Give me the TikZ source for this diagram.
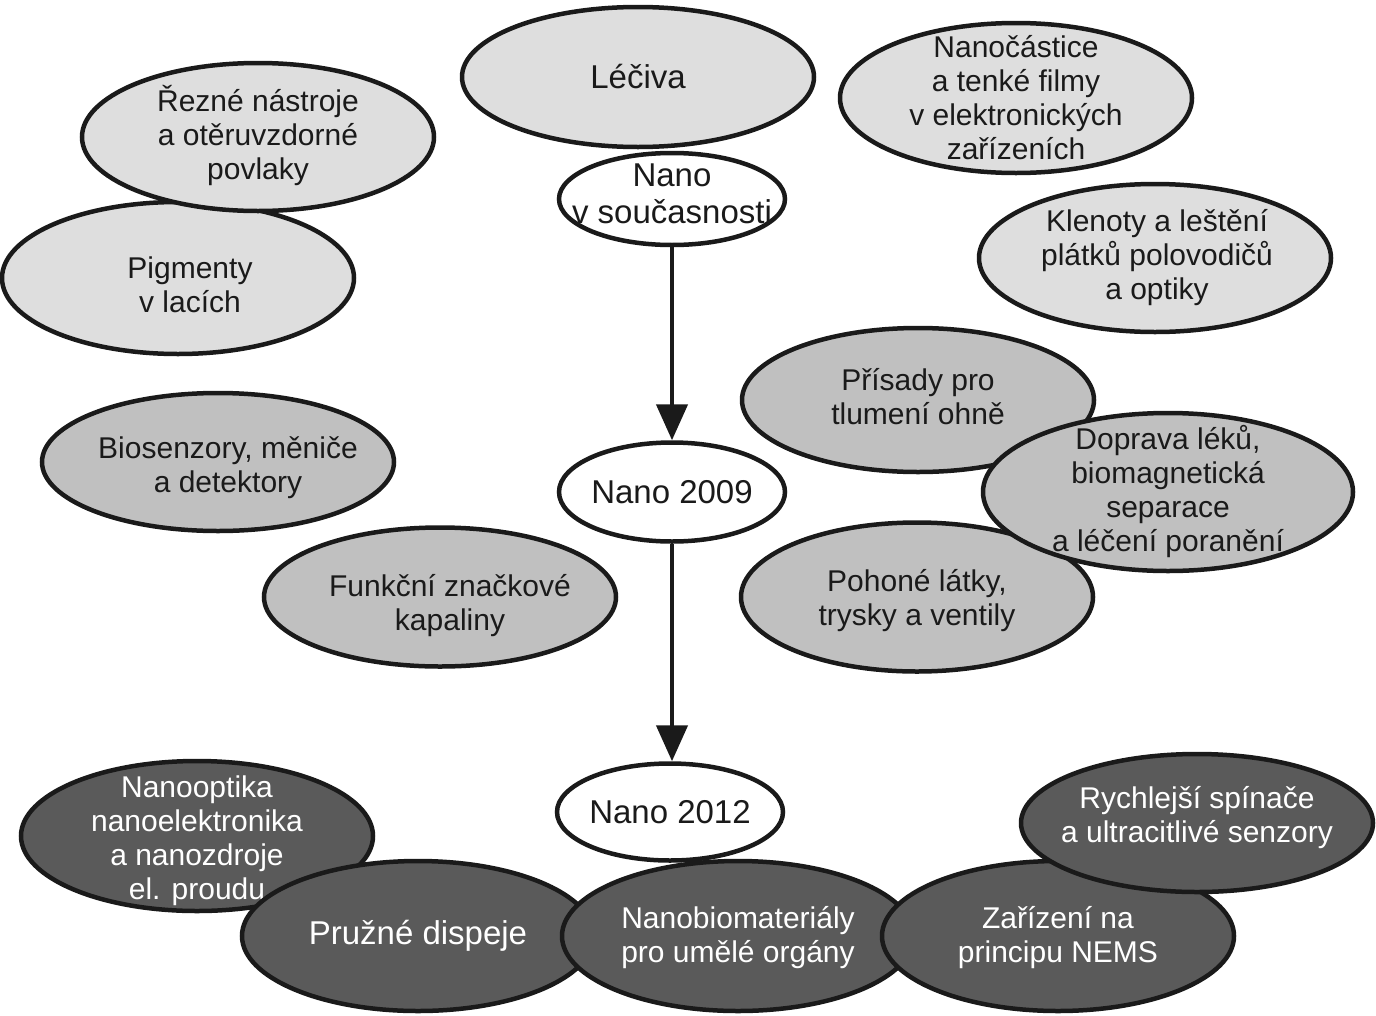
\documentclass[tikz,border=0pt]{standalone}
\usepackage{fontspec}
\setmainfont{Liberation Sans}
\usetikzlibrary{arrows.meta, shapes.geometric, positioning}
\definecolor{ink}{HTML}{1A1A1A}
\definecolor{lightfill}{HTML}{DEDEDE}
\definecolor{midfill}{HTML}{C0C0C0}
\definecolor{darkfill}{HTML}{5A5A5A}

\begin{document}
\begin{tikzpicture}[x=1pt,y=-1pt,->,>={Triangle[width=31pt,length=36pt]},line width=4.5pt,
		bubble/.style={ellipse,draw=ink,inner sep=0pt,minimum width=352pt,minimum height=146pt},
		light node/.style={bubble,fill=lightfill},
		mid node/.style={bubble,fill=midfill},
		dark node/.style={bubble,fill=darkfill},
		era node/.style={bubble,fill=white,minimum width=226pt,minimum height=96pt},
		txt/.style={align=center,text=ink,font=\fontsize{30}{34}\selectfont},
		big txt/.style={txt,font=\fontsize{33}{37}\selectfont},
		dark txt/.style={txt,text=white}]
		\useasboundingbox (0,0) rectangle (1376,1015);

		%% Nodes
		% Nano v soucasnosti
		\begin{scope}
			\node (drugs) at (638,77) [light node, minimum height=140pt, label={[big txt]center:{Léčiva}}] {};
			\node (films) at (1016,98) [light node, minimum height=150pt, label={[txt]center:{Nanočástice\\a tenké filmy\\v elektronických\\zařízeních}}] {};
			\node (pigments) at (178,278) [light node, minimum height=152pt, label={[txt,xshift=12pt,yshift=-7pt]center:{Pigmenty\\v lacích}}] {};
			\node (tools) at (258,137) [light node, minimum height=148pt, label={[txt,yshift=2pt]center:{Řezné nástroje\\a otěruvzdorné\\povlaky}}] {};
			\node (gems) at (1155,258) [light node, minimum height=148pt, label={[txt,xshift=2pt]center:{Klenoty a leštění\\plátků polovodičů\\a optiky}}] {};
			\node (now) at (672,199) [era node, minimum height=92pt, label={[big txt,yshift=5pt]center:{Nano\\v současnosti}}] {};
		\end{scope}

		% Nano 2009
		\begin{scope}
			\node (sensors) at (218,462) [mid node, minimum height=138pt, label={[txt,xshift=10pt,yshift=-6pt]center:{Biosenzory, měniče\\a detektory}}] {};
			\node (fluids) at (440,597) [mid node, minimum height=139pt, label={[txt,xshift=10pt,yshift=-9pt]center:{Funkční značkové\\kapaliny}}] {};
			\node (flame) at (918,400) [mid node, minimum height=144pt, label={[txt,yshift=3pt]center:{Přísady pro\\tlumení ohně}}] {};
			\node (valves) at (917,597) [mid node, minimum height=149pt, label={[txt,yshift=-4pt]center:{Pohoné látky,\\trysky a ventily}}] {};
			\node (delivery) at (1168,492) [mid node, minimum width=370pt, minimum height=158pt, label={[txt]center:{Doprava léků,\\biomagnetická\\separace\\a léčení poranění}}] {};
			\node (n2009) at (672,492) [era node, minimum height=99pt, label={[big txt]center:{Nano 2009}}] {};
		\end{scope}

		% Nano 2012
		\begin{scope}
			\node (optics) at (197,836) [dark node, minimum height=150pt, label={[dark txt,yshift=-5pt]center:{Nanooptika\\nanoelektronika\\a nanozdroje\\el. proudu}}] {};
			\node (displays) at (418,936) [dark node, minimum height=150pt, label={[big txt,text=white]center:{Pružné dispeje}}] {};
			\node (organs) at (738,936) [dark node, minimum height=150pt, label={[dark txt,yshift=-2pt]center:{Nanobiomateriály\\pro umělé orgány}}] {};
			\node (nems) at (1058,936) [dark node, minimum height=150pt, label={[dark txt,yshift=-2pt]center:{Zařízení na\\principu NEMS}}] {};
			\node (switches) at (1197,823) [dark node, minimum height=138pt, label={[dark txt,yshift=5pt]center:{Rychlejší spínače\\a ultracitlivé senzory}}] {};
			\node (n2012) at (670,812) [era node, minimum height=97pt, label={[big txt]center:{Nano 2012}}] {};
		\end{scope}

		%% Edges
		\draw[ink] (now) -- (n2009);
		\draw[ink] (n2009) -- (n2009 |- n2012.north);
	\end{tikzpicture}
\end{document}
